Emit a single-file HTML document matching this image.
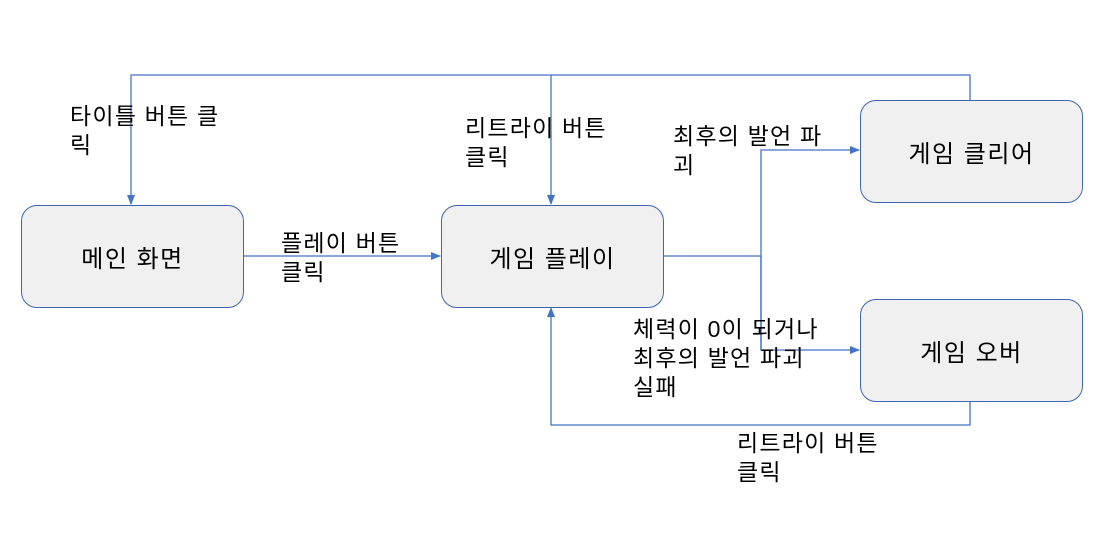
<!DOCTYPE html>
<html><head><meta charset="utf-8"><style>
body{margin:0;width:1118px;height:533px;background:#fff;position:relative;overflow:hidden;font-family:"Liberation Sans","Noto Sans CJK KR",sans-serif;color:#000}
.b{position:absolute;width:223px;height:103px;border:1.3px solid #3f65b0;border-radius:16px;background:#f0f0f0;box-sizing:border-box;display:flex;align-items:center;justify-content:center;font-size:24px;letter-spacing:1.5px}
.t{position:absolute;font-size:23px;line-height:29px;white-space:nowrap;letter-spacing:1.2px}
</style></head><body>
<svg width="1118" height="533" style="position:absolute;left:0;top:0">
<defs><marker id="a" markerWidth="10" markerHeight="8" refX="9" refY="4" orient="auto" markerUnits="userSpaceOnUse"><path d="M0,0L10,4L0,8z" fill="#4472c4"/></marker></defs>
<g stroke="#4472c4" stroke-width="1.3" fill="none">
<path d="M970,100V75H131V204" marker-end="url(#a)"/>
<path d="M551,75V204" marker-end="url(#a)"/>
<path d="M243,256H440" marker-end="url(#a)"/>
<path d="M663,256H761"/>
<path d="M761,350V150H859" marker-end="url(#a)"/>
<path d="M761,256V350H859" marker-end="url(#a)"/>
<path d="M970,401V425H551V308" marker-end="url(#a)"/>
</g></svg>
<div class="b" style="left:21px;top:205px">메인 화면</div>
<div class="b" style="left:441px;top:205px">게임 플레이</div>
<div class="b" style="left:860px;top:100px">게임 클리어</div>
<div class="b" style="left:860px;top:299px">게임 오버</div>
<div class="t" style="left:70px;top:102px">타이틀 버튼 클<br>릭</div>
<div class="t" style="left:465px;top:114px">리트라이 버튼<br>클릭</div>
<div class="t" style="left:673px;top:122px">최후의 발언 파<br>괴</div>
<div class="t" style="left:281px;top:229px">플레이 버튼<br>클릭</div>
<div class="t" style="left:633px;top:315px">체력이 0이 되거나<br>최후의 발언 파괴<br>실패</div>
<div class="t" style="left:737px;top:429px">리트라이 버튼<br>클릭</div>
</body></html>
